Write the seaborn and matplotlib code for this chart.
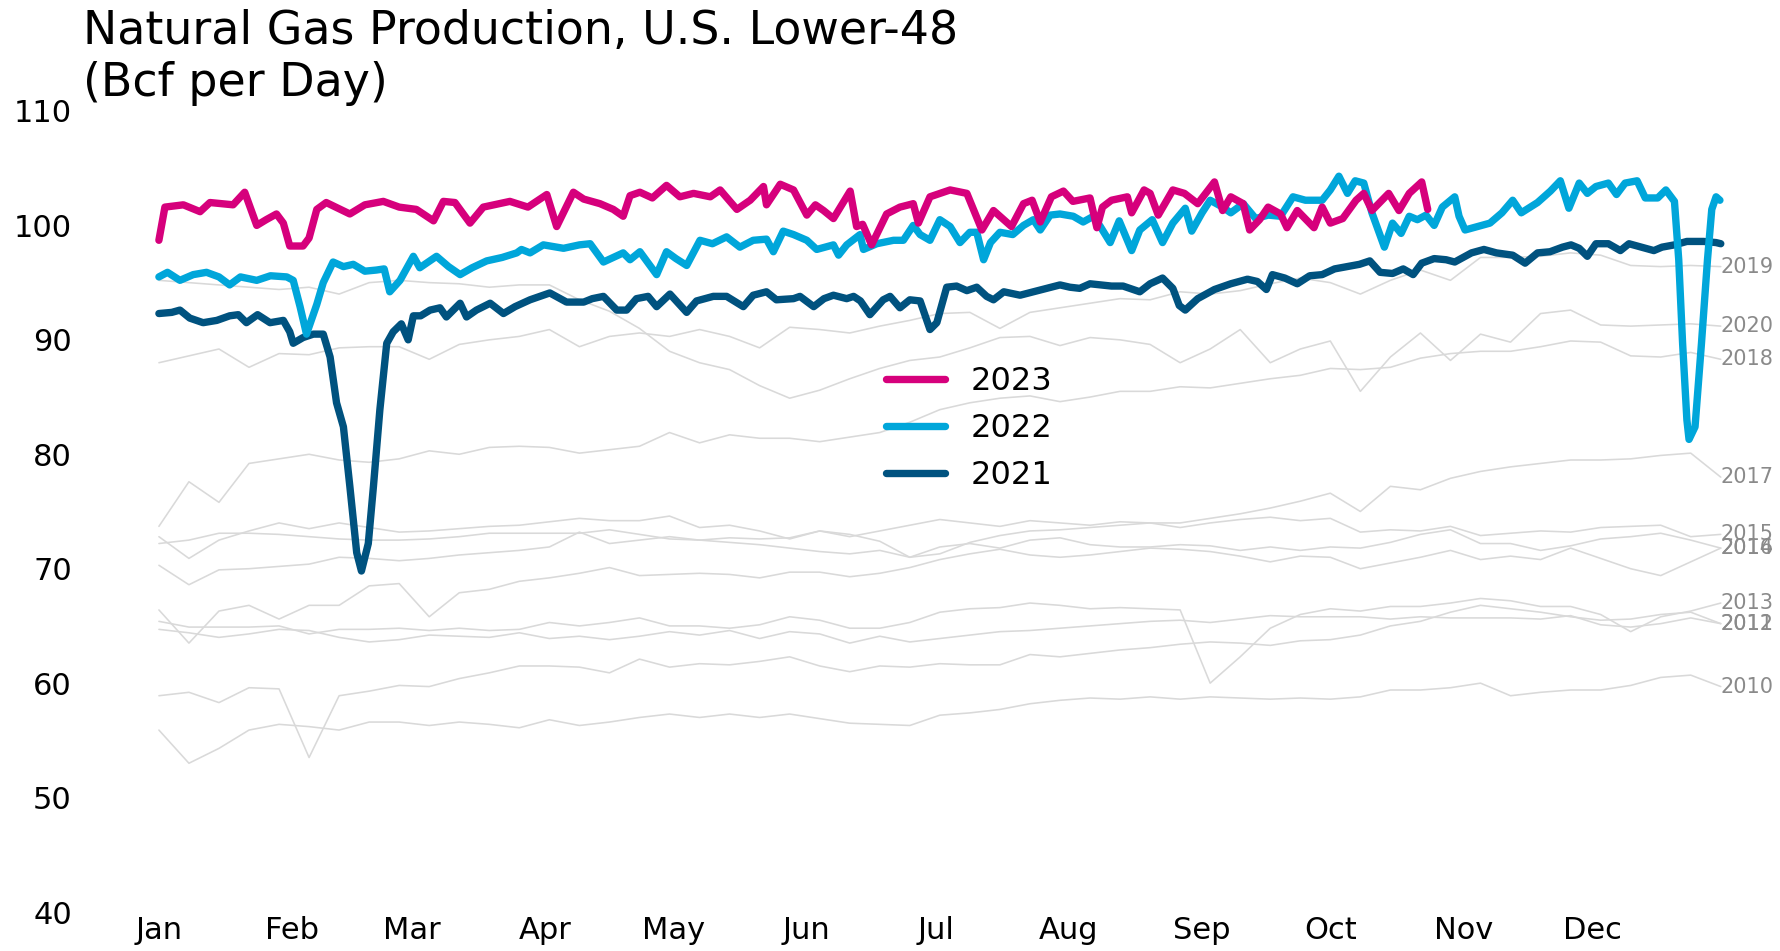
import pandas as pd
import seaborn as sns
import matplotlib.pyplot as plt

# history (weekly readings, day-of-year 0..364)
week_days = list(range(0, 365, 7))

prod_2010 = [55.9, 53.0, 54.3, 55.9, 56.4, 56.2, 55.9, 56.6, 56.6, 56.3, 56.6, 56.4, 56.1, 56.8,
             56.3, 56.6, 57.0, 57.3, 57.0, 57.3, 57.0, 57.3, 56.9, 56.5, 56.4, 56.3, 57.2, 57.4,
             57.7, 58.2, 58.5, 58.7, 58.6, 58.8, 58.6, 58.8, 58.7, 58.6, 58.7, 58.6, 58.8, 59.4,
             59.4, 59.6, 60.0, 58.9, 59.2, 59.4, 59.4, 59.8, 60.5, 60.7, 59.7]
prod_2011 = [58.9, 59.2, 58.3, 59.6, 59.5, 53.5, 58.9, 59.3, 59.8, 59.7, 60.4, 60.9, 61.5, 61.5,
             61.4, 60.9, 62.1, 61.4, 61.7, 61.6, 61.9, 62.3, 61.5, 61.0, 61.5, 61.4, 61.7, 61.6,
             61.6, 62.5, 62.3, 62.6, 62.9, 63.1, 63.4, 63.6, 63.5, 63.3, 63.7, 63.8, 64.2, 65.0,
             65.4, 66.2, 66.8, 66.5, 66.2, 65.8, 65.5, 65.6, 66.0, 66.2, 65.2]
prod_2012 = [64.7, 64.4, 64.0, 64.3, 64.7, 64.6, 64.0, 63.6, 63.8, 64.2, 64.1, 64.0, 64.4, 63.9,
             64.1, 63.8, 64.1, 64.5, 64.2, 64.6, 63.9, 64.5, 64.3, 63.5, 64.1, 63.6, 63.9, 64.2,
             64.5, 64.6, 64.8, 65.0, 65.2, 65.4, 65.5, 65.3, 65.6, 65.9, 65.8, 65.8, 65.8, 65.6,
             65.8, 65.7, 65.7, 65.7, 65.6, 65.9, 65.1, 64.9, 65.2, 65.7, 65.2]
prod_2013 = [65.4, 64.9, 64.9, 64.9, 65.0, 64.3, 64.7, 64.7, 64.8, 64.6, 64.8, 64.6, 64.7, 65.3,
             65.0, 65.3, 65.7, 65.0, 65.0, 64.8, 65.1, 65.8, 65.5, 64.8, 64.8, 65.3, 66.2, 66.5,
             66.6, 67.0, 66.8, 66.5, 66.6, 66.5, 66.4, 60.0, 62.3, 64.8, 66.0, 66.5, 66.3, 66.7,
             66.7, 67.0, 67.4, 67.2, 66.7, 66.7, 66.0, 64.5, 65.8, 66.3, 67.0]
prod_2014 = [66.4, 63.5, 66.3, 66.8, 65.6, 66.8, 66.8, 68.5, 68.7, 65.8, 67.9, 68.2, 68.9, 69.2,
             69.6, 70.1, 69.4, 69.5, 69.6, 69.5, 69.2, 69.7, 69.7, 69.3, 69.6, 70.1, 70.8, 71.3,
             71.7, 71.2, 71.0, 71.2, 71.5, 71.8, 71.7, 71.5, 71.1, 70.6, 71.1, 71.0, 70.0, 70.5,
             71.0, 71.6, 70.8, 71.1, 70.8, 71.8, 70.9, 70.0, 69.4, 70.6, 71.8]
prod_2015 = [72.8, 70.9, 72.5, 73.3, 74.0, 73.5, 74.0, 73.6, 73.2, 73.3, 73.5, 73.7, 73.8, 74.1,
             74.4, 74.2, 74.2, 74.6, 73.6, 73.8, 73.3, 72.6, 73.3, 72.8, 73.3, 73.8, 74.3, 74.0,
             73.7, 74.2, 74.0, 73.8, 74.1, 74.0, 73.6, 74.0, 74.3, 74.5, 74.2, 74.4, 73.2, 73.4,
             73.3, 73.7, 72.9, 73.1, 73.3, 73.2, 73.6, 73.7, 73.8, 72.8, 73.0]
prod_2016 = [72.2, 72.5, 73.1, 73.1, 73.0, 72.8, 72.6, 72.5, 72.5, 72.6, 72.8, 73.1, 73.1, 73.1,
             73.1, 73.4, 73.0, 72.6, 72.5, 72.7, 72.6, 72.7, 73.3, 73.0, 72.4, 71.0, 71.9, 72.2,
             71.8, 72.5, 72.7, 72.1, 71.9, 71.9, 72.1, 72.0, 71.6, 71.9, 71.6, 71.9, 71.8, 72.3,
             73.0, 73.4, 72.2, 72.2, 71.6, 72.0, 72.6, 72.8, 73.1, 72.5, 71.8]
prod_2017 = [70.3, 68.6, 69.9, 70.0, 70.2, 70.4, 71.0, 70.9, 70.7, 70.9, 71.2, 71.4, 71.6, 71.9,
             73.2, 72.2, 72.5, 72.8, 72.5, 72.3, 72.1, 71.8, 71.5, 71.3, 71.6, 71.0, 71.3, 72.3,
             72.9, 73.3, 73.4, 73.6, 73.8, 74.0, 74.0, 74.4, 74.8, 75.3, 75.9, 76.6, 75.0, 77.2,
             76.9, 77.9, 78.5, 78.9, 79.2, 79.5, 79.5, 79.6, 79.9, 80.1, 78.0]
prod_2018 = [73.7, 77.6, 75.8, 79.2, 79.6, 80.0, 79.5, 79.3, 79.6, 80.3, 80.0, 80.6, 80.7, 80.6,
             80.1, 80.4, 80.7, 81.9, 81.0, 81.7, 81.4, 81.4, 81.1, 81.5, 81.9, 82.8, 83.9, 84.5,
             84.9, 85.1, 84.6, 85.0, 85.5, 85.5, 85.9, 85.8, 86.2, 86.6, 86.9, 87.5, 87.4, 87.6,
             88.4, 88.8, 89.0, 89.0, 89.4, 89.9, 89.8, 88.6, 88.5, 88.9, 88.3]
prod_2019 = [88.0, 88.6, 89.2, 87.6, 88.8, 88.7, 89.3, 89.4, 89.4, 88.3, 89.6, 90.0, 90.3, 90.9,
             89.4, 90.3, 90.6, 90.3, 90.9, 90.3, 89.3, 91.1, 90.9, 90.6, 91.2, 91.7, 92.3, 92.4,
             91.0, 92.4, 92.8, 93.2, 93.6, 93.5, 94.2, 94.0, 94.3, 94.9, 95.4, 95.0, 94.0, 95.2,
             96.1, 95.2, 97.2, 97.2, 97.3, 97.6, 97.4, 96.5, 96.4, 96.5, 96.4]
prod_2020 = [95.2, 95.0, 94.8, 94.6, 94.4, 94.6, 94.0, 95.0, 95.2, 95.0, 94.9, 94.6, 94.8, 94.8,
             93.5, 92.5, 91.0, 89.0, 88.0, 87.4, 86.0, 84.9, 85.6, 86.6, 87.5, 88.2, 88.5, 89.3,
             90.2, 90.3, 89.5, 90.2, 90.0, 89.6, 88.0, 89.2, 90.9, 88.0, 89.2, 89.9, 85.5, 88.5,
             90.6, 88.2, 90.5, 89.8, 92.3, 92.6, 91.3, 91.2, 91.3, 91.4, 91.2]

history = {2010: prod_2010, 2011: prod_2011, 2012: prod_2012, 2013: prod_2013,
           2014: prod_2014, 2015: prod_2015, 2016: prod_2016, 2017: prod_2017,
           2018: prod_2018, 2019: prod_2019, 2020: prod_2020}

# highlighted years
days_2021 = [0, 3, 4.9, 7.2, 10.3, 13.5, 16.5, 18.5, 20.4, 23,
             25.9, 29, 30.5, 31.3, 33.6, 36, 38.3, 39.9, 41.4, 43,
             44.5, 46.1, 47.2, 48.8, 50, 51.5, 53.1, 54.6, 56.5, 58.1,
             59.3, 61, 63.2, 65.5, 67, 70.2, 71.7, 74, 77.2, 80.3,
             83, 86.5, 91.1, 95, 99, 101, 103.6, 106.7, 109, 111.3,
             114, 116, 119.1, 123, 125.3, 129.2, 132.3, 136.2, 138.5, 141.6,
             143.9, 147.9, 149.4, 152.6, 155, 157.2, 160.3, 161.9, 163.5, 165.7,
             168.8, 170.4, 172.7, 175, 177.4, 179.7, 181.3, 183.6, 185.9, 188.3,
             190.6, 192.9, 194.5, 196.9, 200.7, 203.8, 206.9, 210, 212.3, 214.6,
             217, 219.5, 222, 224.7, 228.6, 231, 233.9, 236.3, 237.8, 239.2,
             242.1, 246, 249.8, 253.7, 256, 258.1, 259.5, 262.4, 265.3, 268.2,
             271.1, 274, 276.9, 279.8, 282.2, 284.6, 287.5, 290, 292.3, 294.3,
             297.2, 300, 302, 305.9, 308.8, 311.7, 315.5, 318.4, 321.3, 324.2,
             327.1, 329.1, 331, 332.9, 334.9, 337.8, 340.6, 342.6, 345.5, 348.4,
             350.3, 353.2, 356.1, 358, 360, 362.9, 364]
prod_2021 = [92.3, 92.4, 92.6, 91.9, 91.5, 91.7, 92.1, 92.2, 91.5, 92.2,
             91.5, 91.7, 90.7, 89.7, 90.2, 90.5, 90.5, 88.5, 84.5, 82.4,
             77.2, 71.4, 69.8, 72.2, 77.2, 83.9, 89.7, 90.7, 91.4, 90.0,
             92.1, 92.1, 92.6, 92.8, 92.0, 93.2, 92.0, 92.6, 93.2, 92.3,
             92.9, 93.5, 94.1, 93.3, 93.3, 93.6, 93.8, 92.6, 92.6, 93.6,
             93.8, 92.9, 94.0, 92.4, 93.4, 93.8, 93.8, 92.9, 93.9, 94.2,
             93.5, 93.6, 93.8, 92.9, 93.6, 93.9, 93.6, 93.8, 93.4, 92.2,
             93.5, 93.8, 92.8, 93.5, 93.4, 90.9, 91.5, 94.6, 94.7, 94.3,
             94.6, 93.8, 93.5, 94.2, 93.9, 94.2, 94.5, 94.8, 94.6, 94.5,
             94.9, 94.8, 94.7, 94.7, 94.2, 94.9, 95.4, 94.5, 93.0, 92.6,
             93.6, 94.4, 94.9, 95.3, 95.1, 94.4, 95.7, 95.4, 94.9, 95.6,
             95.7, 96.2, 96.4, 96.6, 96.9, 95.9, 95.8, 96.2, 95.7, 96.7,
             97.1, 97.0, 96.8, 97.6, 97.9, 97.6, 97.4, 96.7, 97.6, 97.7,
             98.1, 98.3, 98.0, 97.3, 98.4, 98.4, 97.8, 98.4, 98.1, 97.8,
             98.1, 98.3, 98.6, 98.6, 98.6, 98.5, 98.4]

days_2022 = [0, 2, 4.9, 8, 11.1, 14, 16.5, 19, 22.8, 26,
             29.8, 31.3, 32.9, 34.4, 36.8, 38.3, 40.6, 43, 45.3, 48,
             50.7, 52.5, 53.8, 56.2, 59.3, 60.8, 64.7, 67.5, 70.2, 73,
             76.4, 80, 83.4, 84.5, 86.5, 89.6, 94.3, 98, 100.5, 103.6,
             105.9, 108.2, 109.8, 112.1, 116, 118.3, 120.5, 123, 126.1, 129,
             132.3, 135.4, 138.5, 141.6, 143.2, 145.5, 147.9, 151, 153.3, 157.2,
             158.4, 160.3, 163.4, 164.2, 167.3, 171.2, 173.5, 175.8, 177.4, 179.7,
             182, 184.4, 186.7, 189, 190.6, 192.2, 193.8, 196, 199, 201.5,
             203.8, 205.4, 207.7, 210, 213.1, 215.4, 217.8, 219.4, 221.7, 223.8,
             226.7, 228.6, 231.5, 233.9, 236.3, 239.2, 240.7, 243.1, 245, 247.9,
             249.8, 252.7, 255.6, 258.5, 261.4, 264.3, 267.2, 271.1, 273, 275,
             277, 278.8, 280.8, 282.7, 285.6, 287.5, 289.5, 291.4, 293.3, 295.3,
             297.2, 299.1, 302, 303, 304.4, 307.3, 310.2, 313, 315.5, 317.5,
             321.3, 324.3, 326.6, 328.6, 331, 332.9, 334.9, 337.8, 339.7, 341.7,
             344.5, 346.4, 349.3, 351.2, 353.2, 354.2, 355.1, 356.1, 356.6, 358,
             359.5, 360.9, 361.9, 362.9, 363.8]
prod_2022 = [95.5, 95.9, 95.2, 95.7, 95.9, 95.5, 94.8, 95.5, 95.2, 95.6,
             95.5, 95.2, 92.9, 90.5, 93.1, 95.0, 96.8, 96.4, 96.6, 96.0,
             96.1, 96.2, 94.2, 95.2, 97.3, 96.3, 97.3, 96.4, 95.7, 96.3,
             96.9, 97.2, 97.6, 97.9, 97.6, 98.3, 98.0, 98.3, 98.4, 96.8,
             97.2, 97.6, 97.0, 97.7, 95.7, 97.7, 97.1, 96.5, 98.7, 98.4,
             99.0, 98.1, 98.7, 98.8, 97.7, 99.5, 99.2, 98.7, 97.9, 98.3,
             97.4, 98.3, 99.2, 97.9, 98.4, 98.7, 98.7, 100.0, 99.2, 98.7,
             100.5, 99.9, 98.5, 99.4, 99.4, 97.0, 98.5, 99.4, 99.2, 100.0,
             100.5, 99.6, 100.9, 101.0, 100.8, 100.3, 100.8, 99.9, 98.5, 100.4,
             97.8, 99.6, 100.5, 98.5, 100.2, 101.5, 99.5, 101.1, 102.2, 101.6,
             101.1, 101.9, 100.6, 100.9, 100.8, 102.5, 102.2, 102.2, 103.1, 104.3,
             102.8, 103.9, 103.7, 101.1, 98.1, 100.2, 99.3, 100.8, 100.5, 100.9,
             100.0, 101.6, 102.5, 100.8, 99.6, 99.9, 100.2, 101.1, 102.2, 101.1,
             102.0, 103.0, 103.9, 101.5, 103.7, 102.8, 103.4, 103.7, 102.7, 103.7,
             103.9, 102.4, 102.4, 103.1, 102.1, 97.0, 89.7, 83.0, 81.3, 82.4,
             89.7, 97.0, 101.4, 102.5, 102.2]

days_2023 = [0, 1.4, 5.7, 9.6, 11.9, 17.3, 20, 22.8, 25, 27.4,
             29, 30.5, 33.6, 35, 36.8, 39, 44.5, 48, 52.3, 56,
             60, 64, 66.3, 69, 72.5, 75.6, 81.8, 86, 90.4, 92.7,
             96.6, 99, 102.8, 105.9, 108.2, 109.8, 112.1, 115, 118.3, 121.4,
             124.6, 128.5, 130.8, 134.7, 137.8, 140.9, 141.6, 144.8, 147.9, 151,
             153, 154.9, 157.2, 161.1, 162.6, 164, 166.1, 169.6, 172.7, 175.8,
             177, 179.7, 184.4, 188.3, 191.8, 194.5, 198.7, 201.5, 203.5, 205.4,
             208, 210.8, 213, 217, 218.6, 219.9, 222, 225.7, 226.7, 229.6,
             231, 232.9, 236.3, 239, 242.1, 246, 247.9, 249.8, 252.7, 254.2,
             256.5, 258.5, 261.4, 262.9, 265.3, 269.2, 271.1, 273, 275.9, 279,
             280.8, 282.7, 286.6, 289, 291.4, 294.3, 295.7]
prod_2023 = [98.7, 101.6, 101.8, 101.2, 102.0, 101.8, 102.9, 100.0, 100.5, 101.0,
             100.2, 98.2, 98.2, 98.9, 101.4, 102.0, 101.0, 101.8, 102.1, 101.6,
             101.4, 100.4, 102.1, 102.0, 100.2, 101.6, 102.1, 101.6, 102.7, 99.9,
             102.9, 102.3, 101.9, 101.4, 100.8, 102.6, 102.9, 102.4, 103.5, 102.5,
             102.8, 102.5, 103.1, 101.4, 102.2, 103.4, 101.8, 103.6, 103.1, 100.9,
             101.8, 101.3, 100.6, 103.0, 99.9, 100.1, 98.3, 101.0, 101.6, 101.9,
             100.2, 102.5, 103.1, 102.8, 99.6, 101.3, 99.9, 101.9, 102.2, 100.3,
             102.5, 103.0, 102.1, 102.4, 99.8, 101.6, 102.2, 102.5, 101.1, 103.1,
             102.8, 100.9, 103.1, 102.8, 101.9, 103.8, 101.3, 102.5, 101.9, 99.6,
             100.5, 101.6, 101.0, 99.8, 101.3, 99.8, 101.6, 100.2, 100.6, 102.2,
             102.8, 101.3, 102.8, 101.3, 102.8, 103.8, 101.4]

month_starts = [0, 31, 59, 90, 120, 151, 181, 212, 243, 273, 304, 334]
month_labels = ["Jan", "Feb", "Mar", "Apr", "May", "Jun",
                "Jul", "Aug", "Sep", "Oct", "Nov", "Dec"]

COLORS = {"2021": "#00527f", "2022": "#00a6da", "2023": "#d6007c"}
GRAY = "#d9d9d9"


def build_history():
    frames = []
    for year, vals in history.items():
        frames.append(pd.DataFrame({"day": week_days, "bcf": vals, "year": year}))
    return pd.concat(frames, ignore_index=True)


def main():
    sns.set_style("white")
    plt.rcParams["font.family"] = ["DejaVu Sans"]
    plt.rcParams["text.color"] = "black"
    plt.rcParams["xtick.color"] = "black"
    plt.rcParams["ytick.color"] = "black"

    fig = plt.figure(figsize=(17.8, 9.51), dpi=100)
    ax = fig.add_axes([0.0466, 0.041, 0.9534, 0.8423])

    hist = build_history()
    sns.lineplot(data=hist, x="day", y="bcf", units="year", estimator=None,
                 color=GRAY, linewidth=1.15, legend=False, ax=ax)

    # year tags at the end of each grey line (2014/2016 and 2011/2012 overlap as in the source)
    for year, vals in history.items():
        ax.text(364.0, vals[-1], str(year), fontsize=15, color="#8a8a8a",
                ha="left", va="center", clip_on=False)

    recent = [("2021", days_2021, prod_2021),
              ("2022", days_2022, prod_2022),
              ("2023", days_2023, prod_2023)]
    for label, d, v in recent:
        sns.lineplot(x=d, y=v, color=COLORS[label], linewidth=5.3, label=label,
                     estimator=None, solid_joinstyle="round", ax=ax)

    handles, labels = ax.get_legend_handles_labels()
    order = [labels.index(k) for k in ["2023", "2022", "2021"]]
    ax.legend([handles[i] for i in order], [labels[i] for i in order],
              loc="center left", bbox_to_anchor=(0.4975, 0.549),
              bbox_transform=fig.transFigure, frameon=False, fontsize=23,
              handlelength=1.85, handletextpad=0.8, labelspacing=0.5,
              borderpad=0, borderaxespad=0)

    ax.set_xlim(-17.7, 377.8)
    ax.set_ylim(40, 110)
    ax.set_yticks(range(40, 111, 10))
    ax.set_xticks(month_starts)
    ax.set_xticklabels(month_labels)
    ax.tick_params(axis="both", length=0, labelsize=22)
    ax.tick_params(axis="y", pad=8)
    ax.tick_params(axis="x", pad=3)
    ax.set_xlabel("")
    ax.set_ylabel("")
    sns.despine(ax=ax, left=True, bottom=True)

    fig.text(0.0466, 0.991, "Natural Gas Production, U.S. Lower-48\n(Bcf per Day)",
             fontsize=33, ha="left", va="top")

    fig.savefig("out.png", dpi=100)
    plt.close(fig)


if __name__ == "__main__":
    main()
